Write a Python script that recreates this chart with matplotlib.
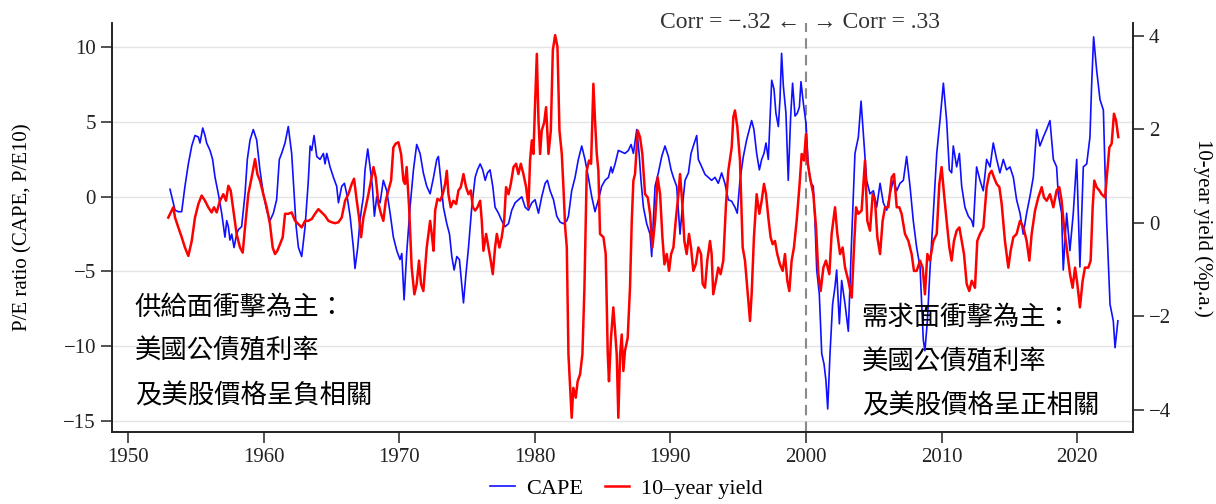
import matplotlib
matplotlib.use("Agg")
import matplotlib.pyplot as plt

plt.rcParams['font.family'] = ['Liberation Serif', 'DejaVu Serif']

# CAPE (detrended, left axis)
cape_year = [
    1953.10, 1953.47, 1953.71, 1953.96, 1954.20, 1954.45, 1954.70, 1954.94, 1955.19, 1955.31,
    1955.51, 1955.68, 1955.80, 1956.05, 1956.24, 1956.42, 1956.66, 1956.91, 1957.15, 1957.28,
    1957.40, 1957.52, 1957.65, 1957.82, 1958.01, 1958.14, 1958.38, 1958.63, 1958.80, 1959.00,
    1959.24, 1959.49, 1959.73, 1959.98, 1960.23, 1960.47, 1960.72, 1960.96, 1961.16, 1961.33,
    1961.58, 1961.82, 1962.07, 1962.19, 1962.40, 1962.57, 1962.81, 1963.06, 1963.30, 1963.43,
    1963.55, 1963.72, 1963.92, 1964.16, 1964.41, 1964.53, 1964.66, 1964.90, 1965.15, 1965.39,
    1965.52, 1965.76, 1965.96, 1966.13, 1966.38, 1966.62, 1966.74, 1966.94, 1967.11, 1967.24,
    1967.36, 1967.48, 1967.68, 1967.85, 1968.02, 1968.17, 1968.34, 1968.59, 1968.83, 1969.08,
    1969.33, 1969.57, 1969.82, 1970.06, 1970.19, 1970.36, 1970.55, 1970.80, 1971.05, 1971.29,
    1971.54, 1971.78, 1972.03, 1972.28, 1972.53, 1972.77, 1972.89, 1973.07, 1973.26, 1973.51,
    1973.71, 1973.88, 1974.05, 1974.25, 1974.44, 1974.61, 1974.74, 1974.93, 1975.11, 1975.35,
    1975.60, 1975.77, 1975.97, 1976.16, 1976.34, 1976.51, 1976.70, 1976.90, 1977.07, 1977.32,
    1977.56, 1977.81, 1978.06, 1978.30, 1978.55, 1978.79, 1979.04, 1979.29, 1979.53, 1979.78,
    1980.02, 1980.27, 1980.51, 1980.76, 1980.93, 1981.13, 1981.38, 1981.62, 1981.87, 1982.11,
    1982.36, 1982.48, 1982.72, 1982.97, 1983.21, 1983.46, 1983.70, 1983.95, 1984.20, 1984.44,
    1984.69, 1984.93, 1985.18, 1985.43, 1985.62, 1985.72, 1985.92, 1986.16, 1986.41, 1986.65,
    1986.90, 1987.10, 1987.27, 1987.52, 1987.69, 1987.83, 1988.01, 1988.25, 1988.50, 1988.62,
    1988.74, 1988.87, 1989.11, 1989.36, 1989.60, 1989.85, 1990.05, 1990.22, 1990.46, 1990.71,
    1990.88, 1991.08, 1991.33, 1991.52, 1991.69, 1991.94, 1992.06, 1992.31, 1992.55, 1992.79,
    1993.04, 1993.29, 1993.53, 1993.78, 1994.02, 1994.27, 1994.52, 1994.76, 1994.93, 1995.13,
    1995.38, 1995.62, 1995.82, 1995.99, 1996.16, 1996.36, 1996.56, 1996.73, 1996.90, 1997.05,
    1997.22, 1997.34, 1997.47, 1997.64, 1997.78, 1997.96, 1998.08, 1998.20, 1998.33, 1998.52,
    1998.69, 1998.87, 1999.01, 1999.19, 1999.36, 1999.51, 1999.63, 1999.80, 2000.00, 2000.17,
    2000.37, 2000.54, 2000.66, 2000.79, 2000.98, 2001.16, 2001.33, 2001.47, 2001.60, 2001.77,
    2001.96, 2002.14, 2002.26, 2002.46, 2002.63, 2002.88, 2003.12, 2003.37, 2003.61, 2003.86,
    2004.06, 2004.23, 2004.47, 2004.72, 2004.97, 2005.21, 2005.46, 2005.70, 2005.95, 2006.19,
    2006.44, 2006.69, 2006.93, 2007.18, 2007.42, 2007.67, 2007.91, 2008.16, 2008.41, 2008.65,
    2008.77, 2008.95, 2009.14, 2009.39, 2009.64, 2009.88, 2010.13, 2010.37, 2010.57, 2010.74,
    2010.86, 2011.11, 2011.31, 2011.48, 2011.72, 2011.97, 2012.22, 2012.34, 2012.58, 2012.83,
    2013.07, 2013.32, 2013.57, 2013.81, 2014.06, 2014.30, 2014.55, 2014.79, 2015.04, 2015.29,
    2015.53, 2015.78, 2016.02, 2016.27, 2016.51, 2016.76, 2017.01, 2017.25, 2017.50, 2017.74,
    2017.99, 2018.24, 2018.48, 2018.60, 2018.85, 2018.97, 2019.22, 2019.46, 2019.71, 2019.96,
    2020.20, 2020.45, 2020.70, 2020.94, 2021.06, 2021.21, 2021.43, 2021.68, 2021.93, 2022.05,
    2022.17, 2022.42, 2022.66, 2022.79, 2023.00,
]
cape_val = [
    0.5, -0.9, -1.0, -1.0, 0.7, 2.2, 3.4, 4.1, 4.0, 3.6,
    4.6, 4.1, 3.6, 3.1, 2.5, 1.3, 0.2, -1.1, -2.7, -1.6,
    -2.0, -2.9, -2.5, -3.4, -2.5, -2.2, -2.0, 0.2, 2.5, 3.8,
    4.5, 3.8, 1.8, 0.2, -0.9, -1.6, -1.1, -0.2, 2.5, 2.9,
    3.6, 4.7, 2.9, 1.1, -2.0, -3.4, -4.0, -2.0, 1.1, 3.4,
    3.1, 4.1, 2.7, 2.5, 2.9, 2.2, 2.9, 2.0, 1.3, 0.7,
    -0.4, 0.7, 0.9, 0.2, -1.3, -3.4, -4.8, -3.4, -1.6, -0.7,
    0.0, 1.8, 3.2, 2.0, 0.7, -1.3, 0.0, -0.4, 1.1, 0.4,
    -1.1, -2.7, -3.6, -4.2, -3.8, -6.9, -3.8, -0.7, 1.8, 3.5,
    2.9, 1.6, 0.7, 0.2, 1.3, 2.5, 2.7, 1.1, -0.7, -1.8,
    -2.5, -4.0, -4.9, -4.0, -4.2, -5.8, -7.1, -5.1, -3.4, -0.7,
    1.3, 1.8, 2.2, 1.8, 1.1, 1.6, 1.8, 0.7, -0.7, -1.1,
    -1.6, -2.0, -1.8, -0.9, -0.4, -0.2, 0.0, -0.7, -0.9, -0.4,
    -0.2, -1.1, 0.0, 0.9, 1.1, 0.4, -0.2, -1.3, -1.7, -1.8,
    -1.6, -1.3, 0.4, 1.3, 2.5, 3.4, 2.5, 1.3, 0.0, -1.0,
    -0.2, 0.7, 1.1, 1.3, 2.0, 1.6, 2.2, 3.1, 3.0, 2.9,
    3.1, 3.5, 2.9, 4.5, 2.9, 1.1, -0.7, -1.8, -2.5, -4.0,
    -1.6, 0.7, 1.6, 2.7, 3.4, 2.7, 1.8, 1.3, 0.7, -2.5,
    -0.7, 1.1, 1.6, 2.9, 3.4, 4.1, 2.5, 2.0, 1.5, 1.3,
    1.1, 1.3, 0.9, 1.6, 0.9, -0.2, -0.3, -0.7, -1.1, 1.1,
    2.7, 3.8, 4.5, 5.1, 4.5, 2.9, 1.8, 2.5, 2.9, 3.6,
    2.5, 5.1, 7.8, 7.2, 5.6, 4.7, 6.5, 9.6, 7.4, 5.6,
    1.1, 5.4, 7.6, 5.4, 5.6, 6.0, 7.7, 6.3, 4.9, 2.0,
    0.9, 0.7, -1.6, -4.9, -6.5, -10.5, -11.2, -12.3, -14.2, -10.5,
    -7.2, -6.0, -4.9, -8.5, -5.6, -7.2, -9.0, -2.7, 2.9, 4.0,
    6.4, 4.2, 1.1, 0.2, 0.4, -0.7, 0.9, -0.4, -0.9, 0.2,
    1.1, 0.4, 0.9, 1.1, 2.7, 0.7, -1.6, -3.4, -4.7, -9.6,
    -10.3, -8.3, -4.9, -1.1, 2.9, 5.1, 7.6, 5.1, 1.8, 1.6,
    3.4, 2.0, 2.9, 0.7, -0.7, -1.3, -1.6, -2.0, 2.0, 1.1,
    0.4, 2.5, 2.0, 3.6, 2.5, 1.6, 2.5, 1.8, 2.0, 1.3,
    -0.2, -1.1, -2.5, -1.1, 0.0, 1.3, 4.5, 3.4, 4.0, 4.5,
    5.1, 2.5, 2.0, 0.2, -1.1, -4.9, -1.1, -3.6, -1.1, 2.5,
    -4.7, 2.0, 2.2, 4.0, 7.4, 10.7, 8.5, 6.5, 5.8, 1.8,
    -1.6, -7.2, -8.3, -10.1, -8.3,
]

# 10-year yield (detrended, right axis)
yld_year = [
    1952.97, 1953.22, 1953.34, 1953.47, 1953.71, 1953.96, 1954.20, 1954.45, 1954.70, 1954.94,
    1955.19, 1955.43, 1955.68, 1955.92, 1956.17, 1956.34, 1956.54, 1956.78, 1957.03, 1957.23,
    1957.40, 1957.57, 1957.77, 1958.01, 1958.26, 1958.46, 1958.63, 1958.87, 1959.12, 1959.37,
    1959.54, 1959.73, 1959.98, 1960.23, 1960.47, 1960.67, 1960.84, 1961.01, 1961.21, 1961.41,
    1961.58, 1961.82, 1962.07, 1962.32, 1962.57, 1962.81, 1963.06, 1963.30, 1963.55, 1963.79,
    1964.04, 1964.29, 1964.53, 1964.78, 1965.02, 1965.27, 1965.52, 1965.76, 1966.01, 1966.25,
    1966.50, 1966.67, 1966.87, 1967.04, 1967.19, 1967.36, 1967.53, 1967.73, 1967.92, 1968.10,
    1968.27, 1968.47, 1968.66, 1968.83, 1969.01, 1969.20, 1969.40, 1969.57, 1969.74, 1969.94,
    1970.14, 1970.31, 1970.43, 1970.55, 1970.73, 1970.92, 1971.12, 1971.29, 1971.46, 1971.61,
    1971.78, 1972.03, 1972.28, 1972.40, 1972.53, 1972.65, 1972.82, 1973.02, 1973.21, 1973.39,
    1973.51, 1973.63, 1973.80, 1974.00, 1974.20, 1974.37, 1974.54, 1974.74, 1974.93, 1975.11,
    1975.28, 1975.43, 1975.60, 1975.77, 1975.97, 1976.09, 1976.21, 1976.41, 1976.58, 1976.75,
    1976.90, 1977.07, 1977.20, 1977.39, 1977.56, 1977.74, 1977.88, 1978.06, 1978.23, 1978.43,
    1978.62, 1978.79, 1978.97, 1979.16, 1979.36, 1979.53, 1979.65, 1979.78, 1979.90, 1980.02,
    1980.15, 1980.27, 1980.39, 1980.51, 1980.69, 1980.83, 1981.01, 1981.18, 1981.33, 1981.50,
    1981.67, 1981.82, 1981.99, 1982.11, 1982.24, 1982.36, 1982.48, 1982.72, 1982.84, 1983.02,
    1983.16, 1983.34, 1983.51, 1983.66, 1983.83, 1984.00, 1984.15, 1984.32, 1984.44, 1984.57,
    1984.69, 1984.81, 1985.06, 1985.23, 1985.38, 1985.47, 1985.62, 1985.79, 1985.92, 1986.04,
    1986.16, 1986.29, 1986.41, 1986.53, 1986.65, 1986.85, 1987.02, 1987.15, 1987.27, 1987.39,
    1987.59, 1987.76, 1987.93, 1988.13, 1988.33, 1988.50, 1988.67, 1988.87, 1989.06, 1989.24,
    1989.41, 1989.56, 1989.73, 1989.90, 1990.05, 1990.22, 1990.39, 1990.59, 1990.71, 1990.88,
    1991.03, 1991.20, 1991.37, 1991.52, 1991.69, 1991.87, 1992.06, 1992.26, 1992.38, 1992.55,
    1992.72, 1992.92, 1993.04, 1993.16, 1993.36, 1993.53, 1993.70, 1993.90, 1994.10, 1994.27,
    1994.52, 1994.64, 1994.76, 1994.93, 1995.13, 1995.33, 1995.50, 1995.67, 1995.87, 1995.99,
    1996.16, 1996.36, 1996.56, 1996.73, 1996.90, 1997.05, 1997.22, 1997.39, 1997.54, 1997.71,
    1997.88, 1998.08, 1998.28, 1998.45, 1998.62, 1998.77, 1998.94, 1999.11, 1999.31, 1999.51,
    1999.68, 1999.85, 2000.00, 2000.10, 2000.29, 2000.54, 2000.74, 2000.91, 2001.08, 2001.28,
    2001.47, 2001.72, 2001.89, 2002.14, 2002.31, 2002.51, 2002.70, 2002.88, 2003.12, 2003.37,
    2003.54, 2003.69, 2003.86, 2004.10, 2004.35, 2004.52, 2004.72, 2004.92, 2005.09, 2005.26,
    2005.46, 2005.65, 2005.83, 2006.07, 2006.32, 2006.49, 2006.69, 2006.88, 2007.05, 2007.30,
    2007.55, 2007.79, 2007.96, 2008.16, 2008.41, 2008.60, 2008.77, 2008.95, 2009.14, 2009.39,
    2009.64, 2009.83, 2010.00, 2010.18, 2010.37, 2010.57, 2010.74, 2010.91, 2011.11, 2011.31,
    2011.48, 2011.65, 2011.85, 2012.04, 2012.22, 2012.46, 2012.63, 2012.83, 2013.08, 2013.32,
    2013.52, 2013.69, 2013.86, 2014.06, 2014.26, 2014.43, 2014.67, 2014.92, 2015.09, 2015.29,
    2015.53, 2015.78, 2016.03, 2016.27, 2016.47, 2016.64, 2016.89, 2017.13, 2017.38, 2017.55,
    2017.75, 2017.99, 2018.24, 2018.48, 2018.68, 2018.85, 2019.03, 2019.22, 2019.47, 2019.66,
    2019.84, 2020.01, 2020.20, 2020.40, 2020.57, 2020.82, 2020.99, 2021.14, 2021.26, 2021.43,
    2021.63, 2021.80, 2022.05, 2022.22, 2022.37, 2022.54, 2022.71, 2022.86, 2023.03,
]
yld_val = [
    0.11, 0.26, 0.33, 0.11, -0.10, -0.31, -0.53, -0.71, -0.39, 0.11,
    0.40, 0.58, 0.47, 0.33, 0.22, 0.33, 0.22, 0.47, 0.61, 0.47,
    0.79, 0.69, 0.26, -0.24, -0.53, -0.64, -0.10, 0.61, 0.97, 1.36,
    1.04, 0.90, 0.61, 0.33, -0.03, -0.53, -0.67, -0.60, -0.46, -0.31,
    0.19, 0.19, 0.22, 0.04, -0.03, -0.10, 0.04, 0.04, 0.08, 0.19,
    0.29, 0.22, 0.15, 0.04, 0.01, -0.01, 0.01, 0.11, 0.47, 0.61,
    0.83, 0.94, 0.47, 0.11, -0.31, 0.11, 0.33, 0.61, 0.90, 1.19,
    0.97, 0.40, 0.19, 0.04, 0.47, 0.69, 0.90, 1.61, 1.69, 1.72,
    1.47, 0.90, 0.83, 1.19, 0.33, -0.96, -1.53, -1.31, -0.81, -1.31,
    -1.46, -0.53, 0.04, -0.24, -0.60, 0.26, 0.51, 0.47, 0.61, 0.83,
    1.11, 0.61, 0.33, 0.47, 0.40, 0.69, 0.76, 1.04, 0.76, 0.61,
    0.69, 0.33, 0.26, 0.33, 0.47, 0.04, -0.60, -0.24, -0.53, -0.81,
    -1.10, -0.53, -0.24, -0.53, -0.31, 0.04, 0.76, 0.61, 0.83, 1.19,
    1.26, 1.04, 1.26, 1.04, 0.76, 0.33, 1.33, 1.76, 1.47, 2.54,
    3.61, 2.19, 1.47, 1.97, 2.14, 2.47, 1.47, 1.97, 3.69, 4.01,
    3.76, 1.97, 1.47, 0.76, -0.10, -0.53, -2.81, -4.17, -3.53, -3.74,
    -3.39, -3.24, -2.81, -1.39, 1.11, 1.33, 1.26, 2.97, 2.19, 1.47,
    1.11, -0.24, -0.31, -0.67, -2.81, -3.39, -2.46, -1.81, -2.31, -2.81,
    -4.17, -2.81, -2.39, -3.17, -2.74, -2.46, -1.39, 0.04, 0.90, 1.04,
    1.97, 1.83, 1.47, 0.61, 0.54, 0.19, -0.53, 0.04, 0.97, 0.61,
    -0.31, -0.89, -0.67, -1.03, -0.67, -0.53, 0.04, 0.61, 1.04, 0.40,
    -0.39, -0.67, -0.24, -0.53, -1.03, -0.89, -0.53, -0.67, -1.31, -1.39,
    -0.81, -0.39, -0.67, -1.53, -1.24, -0.96, -1.10, -0.81, 0.40, 1.11,
    1.61, 2.26, 2.40, 2.06, 1.33, -0.53, -0.81, -1.39, -2.10, -1.53,
    -0.31, 0.61, 0.19, 0.47, 0.83, 0.61, 0.11, -0.31, -0.46, -0.39,
    -0.67, -0.89, -1.03, -0.67, -1.24, -1.46, -0.81, -0.53, 0.04, 0.76,
    1.47, 1.33, 1.90, 1.33, 0.97, 0.61, -0.10, -1.10, -1.46, -0.96,
    -0.81, -1.10, -0.24, 0.33, -0.24, -0.67, -0.53, -0.96, -1.24, -1.60,
    -0.53, 0.33, 0.19, 0.26, 1.33, 0.04, -0.17, 0.61, 0.47, -0.31,
    -0.67, 0.04, 0.33, 0.33, 0.97, 1.04, 0.33, 0.33, 0.19, -0.24,
    -0.39, -0.67, -1.03, -1.03, -0.81, -0.96, -1.53, -0.67, -0.81, -0.39,
    -0.24, 0.83, 1.19, 0.61, 0.04, -0.53, -0.81, -0.39, -0.17, -0.10,
    -0.39, -0.67, -1.31, -1.46, -1.24, -1.39, -0.39, -0.24, -0.10, 0.76,
    1.04, 1.11, 0.97, 0.83, 0.76, 0.40, -0.39, -0.96, -0.60, -0.31,
    -0.24, 0.04, -0.10, -0.39, -0.81, -0.24, 0.26, 0.54, 0.76, 0.54,
    0.47, 0.61, 0.33, 0.69, 0.76, 0.47, -0.10, -0.53, -1.10, -1.39,
    -0.96, -1.31, -1.81, -1.24, -0.96, -0.96, -0.81, 0.33, 0.90, 0.76,
    0.69, 0.61, 0.54, 1.11, 1.61, 1.69, 2.33, 2.19, 1.83,
]

year_ticks = [1950, 1960, 1970, 1980, 1990, 2000, 2010, 2020]
pe_ticks = [-15, -10, -5, 0, 5, 10]
yield_ticks = [-4, -2, 0, 2, 4]
note_supply = ["供給面衝擊為主：", "美國公債殖利率", "及美股價格呈負相關"]
note_demand = ["需求面衝擊為主：", "美國公債殖利率", "及美股價格呈正相關"]
break_year = 2000

fig = plt.figure(figsize=(12.16, 5.04), dpi=100)
ax = fig.add_axes([0.0921, 0.1423, 0.8396, 0.8121])
ax2 = ax.twinx()

ax.set_xlim(1948.82, 2024.11)
ax.set_ylim(-15.76, 11.63)
ax2.set_ylim(-4.48, 4.27)

ax.yaxis.grid(True, color='#e4e4e4', lw=1.0)
ax.set_axisbelow(True)
ax.axvline(break_year, color='#8a8a8a', ls=(0, (5, 3)), lw=1.5, zorder=1)

l1, = ax.plot(cape_year, cape_val, color='#1010ff', lw=1.2, zorder=3)
l2, = ax2.plot(yld_year, yld_val, color='#ff0000', lw=1.8, zorder=3)

for a in (ax, ax2):
    a.spines['top'].set_visible(False)
    for s in a.spines.values():
        s.set_linewidth(1.2)
        s.set_color('#222222')

ax.set_xticks(year_ticks)
ax.set_yticks(pe_ticks)
ax2.set_yticks(yield_ticks)
ax.tick_params(axis='both', direction='out', length=8, width=1.1, labelsize=15, colors='#222222')
ax2.tick_params(axis='y', direction='out', length=8, width=1.1, labelsize=15, colors='#222222')

ax.set_ylabel('P/E ratio (CAPE, P/E10)', fontsize=15, labelpad=22)
ax2.set_ylabel('10-year yield (%p.a.)', fontsize=15, rotation=270, labelpad=30)

# correlation note on both sides of the break
ax.text(break_year - 0.45, 11.63, 'Corr = \u2212.32 \u2190', ha='right', va='center',
        fontsize=17, color='#333333', clip_on=False)
ax.text(break_year + 0.5, 11.63, '\u2192 Corr = .33', ha='left', va='center',
        fontsize=17, color='#333333', clip_on=False)

cjk = ['Noto Sans CJK TC', 'DejaVu Sans']
for i, line in enumerate(note_supply):
    ax.text(1950.5, -7.4 - 2.95 * i, line, family=cjk, fontsize=19, ha='left', va='center')
for i, line in enumerate(note_demand):
    ax.text(2004.1, -8.1 - 2.95 * i, line, family=cjk, fontsize=19, ha='left', va='center')

fig.legend([l1, l2], ['CAPE', '10\u2013year yield'], loc='center', bbox_to_anchor=(0.515, 0.03),
           ncol=2, frameon=False, fontsize=16, handlelength=1.1, handletextpad=0.5,
           columnspacing=1.0)

plt.savefig('out.png', dpi=100)
